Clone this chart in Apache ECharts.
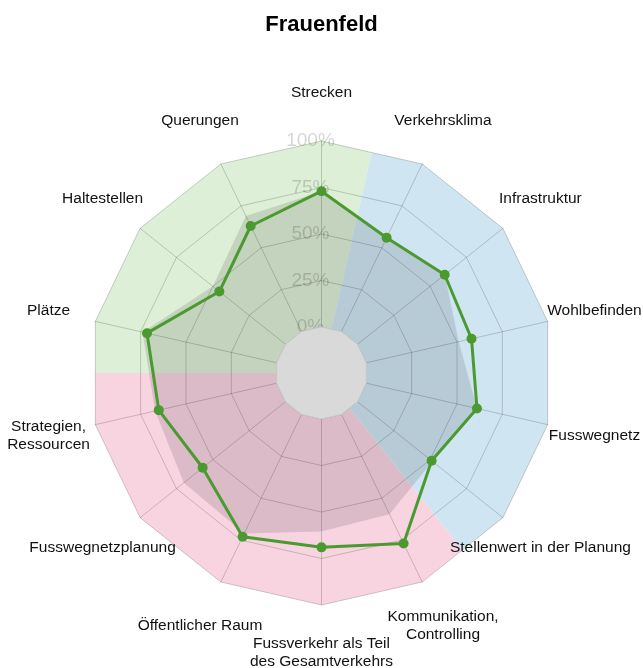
<!DOCTYPE html>
<html>
<head>
<meta charset="utf-8">
<script src="https://cdn.jsdelivr.net/npm/echarts@6/dist/echarts.min.js"></script>
<style>
html,body{margin:0;padding:0;background:#fff;}
#chart{width:643px;height:668px;}
</style>
</head>
<body>
<div id="chart"></div>
<script>
// Indicators in counter-clockwise order starting at the top (ECharts radar order)
const indicators = [
  'Strecken',
  'Querungen',
  'Haltestellen',
  'Plätze',
  'Strategien,\nRessourcen',
  'Fusswegnetzplanung',
  'Öffentlicher Raum',
  'Fussverkehr als Teil\ndes Gesamtverkehrs',
  'Kommunikation,\nControlling',
  'Stellenwert in der Planung',
  'Fusswegnetz',
  'Wohlbefinden',
  'Infrastruktur',
  'Verkehrsklima'
];
// Frauenfeld (green line), percent
const frauenfeld = [73, 63, 45.5, 71.5, 65, 57, 73, 69, 77, 51, 61, 58, 60, 56];
// Comparison (grey area), percent
const vergleich = [73, 69, 50, 74, 67, 70, 71, 60.5, 59.5, 51.5, 61, 51, 60, 56];
// Thematic groups: first / last indicator index of each background zone
const zoneRanges = [[0, 3], [4, 8], [9, 13]];
const zoneColors = ['#ddefd6', '#f8d4e1', '#cfe5f2'];

const FONT = '"Liberation Sans", Arial, Helvetica, sans-serif';
const CENTER = ['50%', 373];
const R_IN = 46, R_OUT = 232;

const N = indicators.length;
const STEP = 360 / N;
const APO = Math.cos(Math.PI / N);
function norm(a) { return ((a % 360) + 360) % 360; }

function renderZone(params, api) {
  const s = api.value(0), e = api.value(1);
  const pts = [api.coord([0, 0])];
  pts.push(api.coord([APO, norm((s - 0.5) * STEP)]));
  for (let k = s; k <= e; k++) pts.push(api.coord([1, norm(k * STEP)]));
  pts.push(api.coord([APO, norm((e + 0.5) * STEP)]));
  return { type: 'polygon', shape: { points: pts }, style: { fill: api.visual('color') } };
}

const chart = echarts.init(document.getElementById('chart'));
const gridColor = 'rgba(0,0,0,0.18)';

chart.setOption({
  animation: false,
  title: {
    text: 'Frauenfeld', left: 'center', top: 9,
    textStyle: { fontSize: 22, fontWeight: 'bold', color: '#000', fontFamily: FONT }
  },
  polar: { center: CENTER, radius: [0, R_OUT] },
  angleAxis: { type: 'value', min: 0, max: 360, startAngle: 90, clockwise: false, show: false },
  radiusAxis: { type: 'value', min: 0, max: 1, show: false },
  radar: [
    {
      center: CENTER, radius: [R_IN, R_OUT], startAngle: 90, splitNumber: 4, shape: 'polygon', z: 2,
      indicator: indicators.map((n, i) => {
        const o = { name: n, min: 0, max: 100 };
        if (i === 0) {
          o.axisLabel = {
            show: true, fontSize: 19, color: 'rgba(0,0,0,0.17)', fontFamily: FONT,
            align: 'center', verticalAlign: 'middle', margin: 11,
            formatter: v => v + '%'
          };
        }
        return o;
      }),
      nameGap: 48,
      axisName: {
        color: '#111', fontSize: 15.5, fontFamily: FONT,
        align: 'center', verticalAlign: 'middle', lineHeight: 18
      },
      splitLine: { lineStyle: { color: gridColor, width: 1 } },
      splitArea: { show: false },
      axisLine: { lineStyle: { color: gridColor, width: 1 } },
      axisTick: { show: false },
      axisLabel: { show: false }
    },
    {
      center: CENTER, radius: R_IN, startAngle: 90, splitNumber: 1, shape: 'polygon', z: 10,
      indicator: indicators.map(() => ({ name: '', min: 0, max: 1 })),
      axisName: { show: false },
      splitLine: { lineStyle: { color: '#c9c9c9', width: 1 } },
      splitArea: { show: true, areaStyle: { color: ['#d9d9d9'] } },
      axisLine: { show: false },
      axisTick: { show: false },
      axisLabel: { show: false }
    }
  ],
  series: [
    {
      type: 'custom', coordinateSystem: 'polar', polarIndex: 0, z: 1, silent: true,
      renderItem: renderZone,
      data: zoneRanges.map((r, i) => ({ value: r, itemStyle: { color: zoneColors[i] } }))
    },
    {
      type: 'radar', radarIndex: 0, z: 3, silent: true, symbol: 'none',
      data: [{
        name: 'Vergleich', value: vergleich,
        lineStyle: { width: 0, opacity: 0 },
        areaStyle: { color: 'rgba(0,0,0,0.16)' }
      }]
    },
    {
      type: 'radar', radarIndex: 0, z: 4, symbol: 'circle', symbolSize: 10,
      data: [{
        name: 'Frauenfeld', value: frauenfeld,
        itemStyle: { color: '#4a9a2f' },
        lineStyle: { color: '#4a9a2f', width: 3 }
      }]
    }
  ]
});
</script>
</body>
</html>
